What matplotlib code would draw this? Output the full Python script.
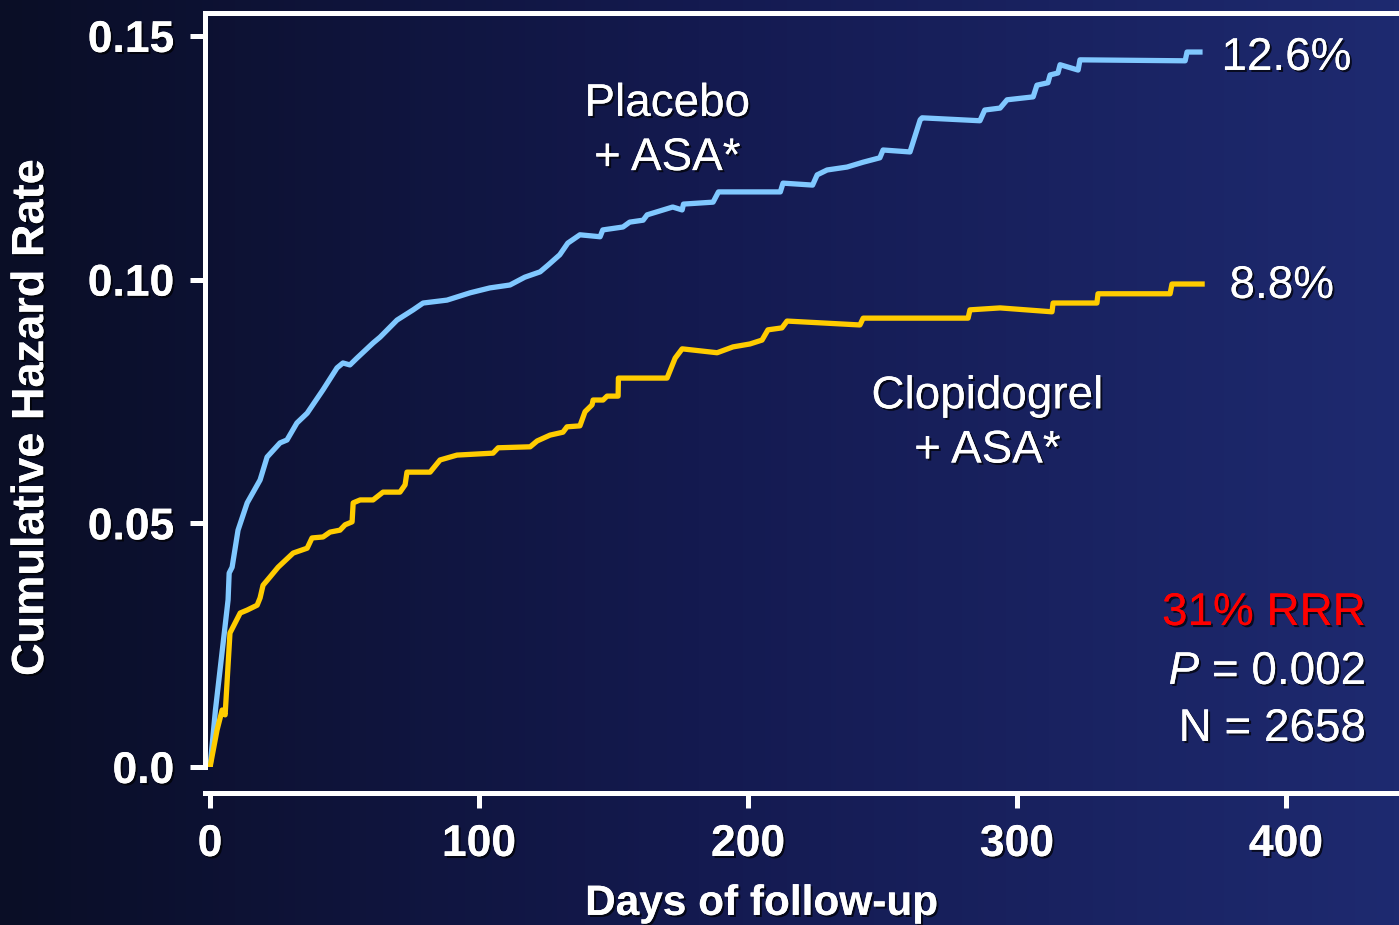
import matplotlib
matplotlib.use("Agg")
import matplotlib.pyplot as plt
import matplotlib.patheffects as pe
import numpy as np
from matplotlib.colors import LinearSegmentedColormap

plt.rcParams['font.family'] = ['Liberation Sans', 'DejaVu Sans']
plt.rcParams['mathtext.fontset'] = 'custom'
plt.rcParams['mathtext.rm'] = 'Liberation Sans'
plt.rcParams['mathtext.it'] = 'Liberation Sans:italic'

# cumulative hazard curves (days, rate)
placebo_days = [0, 2, 6.7, 7.1, 8.2, 10.4, 13.8, 18.6, 21.2, 26.0, 28.6, 32.3, 36.1, 42.0,
                47.2, 49.4, 52.0, 54.6, 60.6, 63.2, 69.5, 75.5, 79.2, 88.1, 96.7, 104,
                111.5, 117, 122.7, 125.7, 130, 133, 137.5, 145, 146, 153.5, 156, 161,
                162.5, 172, 175.5, 176, 187, 189, 212, 213, 224, 225.7, 229.4, 236.8,
                242.8, 249, 250.2, 260.2, 264, 264.7, 286.2, 288, 293.7, 296.3, 306,
                307.4, 311.5, 312.3, 315.2, 316, 322.7, 323.4, 362.5, 363.2, 368]
placebo_rate = [0, 0.0117, 0.0343, 0.0398, 0.0410, 0.0486, 0.0542, 0.0589, 0.0636, 0.0665,
                0.0671, 0.0706, 0.0726, 0.0774, 0.0819, 0.0829, 0.0825, 0.0839, 0.0870,
                0.0882, 0.0917, 0.0938, 0.0952, 0.0958, 0.0973, 0.0983, 0.0989, 0.1005,
                0.1016, 0.1030, 0.1051, 0.1075, 0.1092, 0.1088, 0.1102, 0.1108, 0.1118,
                0.1122, 0.1133, 0.1149, 0.1143, 0.1155, 0.1159, 0.1180, 0.1180, 0.1198,
                0.1194, 0.1215, 0.1225, 0.1231, 0.1241, 0.1250, 0.1266, 0.1262, 0.1328,
                0.1332, 0.1326, 0.1348, 0.1352, 0.1369, 0.1375, 0.1399, 0.1404, 0.1420,
                0.1424, 0.1441, 0.1430, 0.1451, 0.1449, 0.1467, 0.1467]

clop_days = [0, 2.6, 4.5, 5.6, 7.4, 11.2, 13.8, 17.5, 18.6, 19.7, 22.3, 25.3, 30.9, 36.1,
             37.9, 42, 44.6, 48.3, 50.2, 52.8, 53.2, 55.8, 60.6, 64.3, 70.6, 72.5, 73.2,
             81.8, 85.5, 91.8, 105.2, 107.1, 119, 121.6, 126.4, 131.2, 132.7, 137.5,
             139.4, 142, 142.4, 146.1, 147.6, 151.7, 151.8, 169.9, 172.9, 175.5, 188.5,
             194.4, 200.7, 205.2, 207.4, 212.6, 214.5, 241.6, 242.8, 281.8, 282.5, 293.7,
             313, 313.4, 329.7, 330.1, 356.9, 357.6, 368.8]
clop_rate = [0, 0.0076, 0.0117, 0.0107, 0.0275, 0.0316, 0.0322, 0.0332, 0.0347, 0.0373,
             0.0390, 0.0410, 0.0439, 0.0449, 0.0470, 0.0472, 0.0482, 0.0486, 0.0497,
             0.0503, 0.0542, 0.0548, 0.0548, 0.0564, 0.0564, 0.0579, 0.0605, 0.0605,
             0.0630, 0.0640, 0.0644, 0.0655, 0.0657, 0.0669, 0.0681, 0.0687, 0.0698,
             0.0700, 0.0729, 0.0743, 0.0753, 0.0753, 0.0761, 0.0761, 0.0798, 0.0798,
             0.0839, 0.0858, 0.0850, 0.0862, 0.0868, 0.0876, 0.0897, 0.0901, 0.0915,
             0.0907, 0.0921, 0.0921, 0.0938, 0.0942, 0.0934, 0.0952, 0.0952, 0.0971,
             0.0971, 0.0991, 0.0991]

x_ticks = [0, 100, 200, 300, 400]
y_ticks = [0.0, 0.05, 0.10, 0.15]
y_tick_labels = ['0.0', '0.05', '0.10', '0.15']

fig = plt.figure(figsize=(13.99, 9.25), dpi=100)

# navy background, darker on the left
bg = fig.add_axes([0, 0, 1, 1], zorder=-10)
cmap = LinearSegmentedColormap.from_list('navy', ['#0a0e26', '#141a50', '#1e2a70'])
bg.imshow(np.linspace(0, 1, 256)[None, :], aspect='auto', cmap=cmap, extent=[0, 1, 0, 1])
bg.axis('off')

ax = fig.add_axes([0.1465, 0.1708, 0.8535, 0.8151])
ax.patch.set_alpha(0)

shadow = [pe.withSimplePatchShadow(offset=(1.5, -1.5), shadow_rgbFace='black', alpha=0.7),
          pe.Normal()]

ax.plot(placebo_days, placebo_rate, color='#80c8ff', lw=3.8, solid_joinstyle='round')
ax.plot(clop_days, clop_rate, color='#ffcc00', lw=3.8, solid_joinstyle='round')

ax.set_xlim(-1.9, 442)
ax.set_ylim(0, 0.1547)

for s in ['left', 'bottom', 'top']:
    ax.spines[s].set_color('white')
    ax.spines[s].set_linewidth(3.6)
ax.spines['right'].set_visible(False)
ax.spines['bottom'].set_position(('outward', 19))

ax.set_xticks(x_ticks)
ax.set_yticks(y_ticks)
ax.set_yticklabels(y_tick_labels)
ax.tick_params(colors='white', length=11, width=3.6, labelsize=32, pad=11)
for lab in ax.get_xticklabels() + ax.get_yticklabels():
    lab.set_fontweight('bold')
    lab.set_path_effects(shadow)

ax.set_ylabel('Cumulative Hazard Rate', color='white', fontsize=32.5, fontweight='bold',
              path_effects=shadow)
ax.yaxis.set_label_coords(-0.128, 0.463)
ax.set_xlabel('Days of follow-up', color='white', fontsize=30.5, fontweight='bold',
              path_effects=shadow)
ax.xaxis.set_label_coords(0.4665, -0.155)

txt = dict(color='white', fontsize=33, path_effects=shadow)
ax.text(376, 0.1455, '12.6%', ha='left', va='center', **txt)
ax.text(379, 0.0987, '8.8%', ha='left', va='center', **txt)
ax.text(170, 0.1305, 'Placebo\n+ ASA*', ha='center', va='center', linespacing=1.3, **txt)
ax.text(289, 0.0705, 'Clopidogrel\n+ ASA*', ha='center', va='center', linespacing=1.3, **txt)

ax.text(429.7, 0.0316, '31% RRR', ha='right', va='center', color='#ff0000', fontsize=33,
        path_effects=shadow)
ax.text(429.7, 0.0195, '$P$ = 0.002', ha='right', va='center', **txt)
ax.text(429.7, 0.0078, 'N = 2658', ha='right', va='center', **txt)

fig.savefig('out.png', dpi=100)
